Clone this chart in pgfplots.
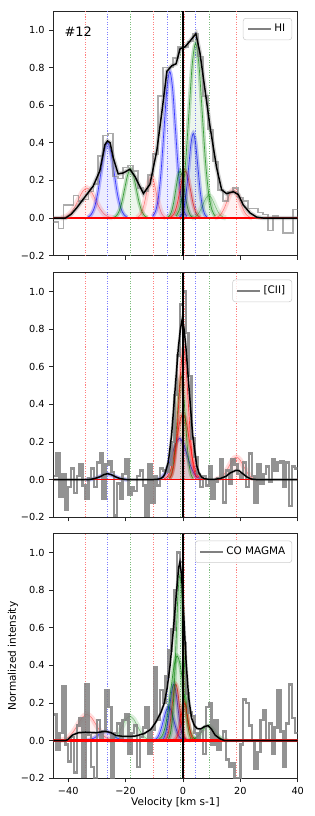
\documentclass[border=0pt]{standalone}
\usepackage{fontspec}
\setmainfont{DejaVu Sans}
\usepackage{pgfplots}
\pgfplotsset{compat=1.18}
\usepackage{pgfplotstable}
\definecolor{mgreen}{HTML}{008000}
\definecolor{vred}{HTML}{FF7F7F}
\definecolor{vblue}{HTML}{7F7FFF}
\definecolor{vgreen}{HTML}{7FBF7F}

% ---------------- data: observed spectra ----------------
\pgfplotstableread{
v y
-45.20 -0.02
-43.46 -0.055
-41.72 0.07
-39.98 0.07
-38.24 0.12
-36.50 0.09
-34.76 0.10
-33.02 0.14
-31.28 0.18
-29.54 0.33
-27.80 0.44
-26.06 0.45
-24.32 0.22
-22.58 0.21
-20.84 0.27
-19.10 0.28
-17.36 0.25
-15.62 0.16
-13.88 0.14
-12.14 0.23
-10.40 0.34
-8.66 0.65
-6.92 0.80
-5.18 0.80
-3.44 0.85
-1.70 0.91
0.04 0.91
1.78 0.94
3.52 0.98
5.26 0.86
7.00 0.65
8.74 0.47
10.48 0.30
12.22 0.15
13.96 0.09
15.70 0.14
17.44 0.16
19.18 0.11
20.92 0.09
22.66 0.05
24.40 0.05
26.14 0.03
27.88 0.02
29.62 -0.065
31.36 0.01
33.10 0.00
34.84 -0.08
36.58 -0.08
38.32 0.045
40.06 0.045
}\hihist

\pgfplotstableread{
v y
-45 0.02
-44 0.14
-43 -0.09
-42 0.03
-41 -0.16
-40 -0.04
-39 0.06
-38 -0.07
-37 0.02
-36 0.08
-35 -0.03
-34 -0.10
-33 0.01
-32 0.06
-31 -0.04
-30 0.09
-29 0.14
-28 -0.10
-27 0.08
-26 0.10
-25 0.04
-24 -0.19
-23 -0.02
-22 -0.10
-21 0.03
-20 0.11
-19 -0.08
-18 -0.04
-17 -0.06
-16 0.02
-15 0.05
-14 -0.03
-13 -0.19
-12 0.08
-11 -0.12
-10 0.02
-9 -0.03
-8 0.06
-7 0.05
-6 0.04
-5 0.08
-4 0.20
-3 0.45
-2 0.66
-1 0.93
0 1.00
1 0.78
2 0.55
3 0.22
4 0.12
5 0.03
6 -0.04
7 0.02
8 -0.03
9 0.07
10 -0.10
11 -0.01
12 0.01
13 0.11
14 -0.12
15 0.05
16 -0.02
17 0.11
18 0.08
19 0.03
20 0.01
21 0.09
22 -0.04
23 0.14
24 0.02
25 -0.12
26 0.08
27 -0.02
28 0.03
29 0.07
30 -0.01
31 0.11
32 0.05
33 0.09
34 0.10
35 -0.04
36 0.09
37 -0.14
38 0.07
39 0.06
40 0.06
}\ciihist

\pgfplotstableread{
v y
-45 0.14
-44 -0.05
-43 0.04
-42 0.29
-41 -0.02
-40 -0.11
-39 0.02
-38 -0.17
-37 0.08
-36 0.12
-35 -0.19
-34 0.30
-33 0.03
-32 -0.14
-31 -0.20
-30 0.11
-29 0.00
-28 0.05
-27 0.27
-26 0.18
-25 -0.20
-24 0.04
-23 0.09
-22 0.00
-21 0.11
-20 0.14
-19 -0.07
-18 0.04
-17 0.08
-16 -0.14
-15 0.02
-14 0.07
-13 0.18
-12 -0.07
-11 0.06
-10 0.39
-9 0.11
-8 0.27
-7 0.20
-6 0.34
-5 0.48
-4 0.59
-3 0.80
-2 1.00
-1 0.95
0 0.52
1 0.25
2 0.15
3 0.13
4 0.04
5 0.00
6 0.05
7 -0.07
8 0.18
9 0.20
10 -0.02
11 0.11
12 -0.05
13 0.00
14 0.05
15 -0.10
16 -0.14
17 -0.12
18 -0.21
19 -0.20
20 -0.02
21 0.22
22 0.20
23 0.08
24 0.00
25 -0.15
26 -0.06
27 0.11
28 0.16
29 0.00
30 0.09
31 -0.07
32 0.07
33 0.27
34 0.05
35 -0.14
36 0.09
37 0.30
38 0.12
39 0.04
40 0.04
}\cohist

% ---------------- helpers ----------------
\newcommand{\comp}[2]{%
  \addplot[draw=none, fill=#1, fill opacity=0.07, smooth, forget plot] coordinates {#2} \closedcycle;
  \addplot[#1, line width=3pt, opacity=0.25, smooth, forget plot] coordinates {#2};
  \addplot[#1, line width=0.5pt, opacity=0.7, smooth, forget plot] coordinates {#2};
}
\newcommand{\compl}[2]{%
  \addplot[draw=none, fill=#1, fill opacity=0.05, smooth, forget plot] coordinates {#2} \closedcycle;
  \addplot[#1, line width=4pt, opacity=0.13, smooth, forget plot] coordinates {#2};
  \addplot[#1, line width=0.4pt, opacity=0.45, smooth, forget plot] coordinates {#2};
}
\newcommand{\vl}[2]{%
  \addplot[color=#1, line width=0.8pt, dash pattern=on 0.8pt off 1.1pt, forget plot] coordinates {(#2,-0.2) (#2,1.1)};
}
\newcommand{\vlines}{%
  \vl{vred}{-34.1}\vl{vblue}{-26.3}\vl{vgreen}{-18.2}%
  \vl{vred}{-10.2}\vl{vblue}{-5.3}\vl{vgreen}{-1.0}%
  \vl{vred}{0.6}\vl{vblue}{4.5}\vl{vgreen}{9.2}\vl{vred}{18.8}%
}
\newcommand{\zeroline}[1]{%
  \addplot[red, line width=#1, forget plot] coordinates {(-45.2,0) (40,0)};
}
\newcommand{\vzero}{%
  \addplot[black, line width=0.9pt, forget plot] coordinates {(0,-0.2) (0,1.1)};
}

\pgfplotsset{
  panel/.style={
    scale only axis, width=183.3pt, height=183.4pt,
    xmin=-45.2, xmax=40, ymin=-0.2, ymax=1.1,
    xtick={-40,-20,0,20,40},
    ytick={-0.2,0,0.2,0.4,0.6,0.8,1.0},
    yticklabels={−0.2,0.0,0.2,0.4,0.6,0.8,1.0},
    tick align=outside, xtick pos=bottom, ytick pos=left,
    major tick length=3pt,
    tick style={black!85, line width=0.6pt},
    axis line style={black!85, line width=0.6pt},
    tick label style={font=\fontsize{7.3}{8}\selectfont, text=black},
    label style={font=\fontsize{7.9}{9}\selectfont},
    legend style={at={(0.977,0.972)}, anchor=north east, draw=black!20,
      rounded corners=2pt, fill=white, fill opacity=0.8, text opacity=1,
      font=\fontsize{7.8}{9}\selectfont, inner xsep=3pt, inner ysep=2.5pt},
    legend cell align=left,
  },
}

\begin{document}
\begin{tikzpicture}
% ================= Panel 1: HI =================
\begin{axis}[panel, at={(0pt,391.95pt)}, anchor=south west, xticklabels={}]
\addlegendimage{gray, line width=1.2pt}
\addlegendentry{HI}
\vlines
\compl{red}{(-42.5,0.002) (-41,0.007) (-39.5,0.022) (-38,0.052) (-36.5,0.097) (-35,0.141) (-33.5,0.160) (-32,0.141) (-30.5,0.097) (-29,0.052) (-27.5,0.022) (-26,0.007) (-24.5,0.002)}
\comp{blue}{(-33.2,0.004) (-32.05,0.018) (-30.9,0.054) (-29.75,0.130) (-28.6,0.243) (-27.45,0.353) (-26.3,0.400) (-25.15,0.353) (-24.0,0.243) (-22.85,0.130) (-21.7,0.054) (-20.55,0.018) (-19.4,0.004)}
\comp{mgreen}{(-24.3,0.003) (-23.3,0.011) (-22.3,0.035) (-21.3,0.085) (-20.3,0.158) (-19.3,0.229) (-18.3,0.260) (-17.3,0.229) (-16.3,0.158) (-15.3,0.085) (-14.3,0.035) (-13.3,0.011) (-12.3,0.003)}
\compl{red}{(-16.1,0.002) (-15.25,0.010) (-14.4,0.030) (-13.55,0.072) (-12.7,0.134) (-11.85,0.194) (-11.0,0.220) (-10.15,0.194) (-9.3,0.134) (-8.45,0.072) (-7.6,0.030) (-6.75,0.010) (-5.9,0.002)}
\comp{blue}{(-10.6,0.009) (-9.6,0.034) (-8.6,0.105) (-7.6,0.254) (-6.6,0.473) (-5.6,0.688) (-4.6,0.780) (-3.6,0.688) (-2.6,0.473) (-1.6,0.254) (-0.6,0.105) (0.4,0.034) (1.4,0.009)}
\comp{mgreen}{(-5.5,0.003) (-4.75,0.011) (-4.0,0.034) (-3.25,0.081) (-2.5,0.152) (-1.75,0.221) (-1.0,0.250) (-0.25,0.221) (0.5,0.152) (1.25,0.081) (2.0,0.034) (2.75,0.011) (3.5,0.003)}
\comp{red}{(-4.6,0.003) (-3.7,0.011) (-2.8,0.034) (-1.9,0.081) (-1.0,0.152) (-0.1,0.221) (0.8,0.250) (1.7,0.221) (2.6,0.152) (3.5,0.081) (4.4,0.034) (5.3,0.011) (6.2,0.003)}
\comp{blue}{(-1.2,0.005) (-0.4,0.020) (0.4,0.061) (1.2,0.146) (2.0,0.273) (2.8,0.397) (3.6,0.450) (4.4,0.397) (5.2,0.273) (6.0,0.146) (6.8,0.061) (7.6,0.020) (8.4,0.005)}
\comp{mgreen}{(-2.5,0.010) (-1.35,0.041) (-0.2,0.126) (0.95,0.302) (2.1,0.565) (3.25,0.820) (4.4,0.930) (5.55,0.820) (6.7,0.565) (7.85,0.302) (9.0,0.126) (10.15,0.041) (11.3,0.010)}
\compl{mgreen}{(3,0.001) (4,0.005) (5,0.016) (6,0.039) (7,0.073) (8,0.106) (9,0.120) (10,0.106) (11,0.073) (12,0.039) (13,0.016) (14,0.005) (15,0.001)}
\compl{red}{(11.0,0.002) (12.1,0.007) (13.2,0.020) (14.3,0.049) (15.4,0.091) (16.5,0.132) (17.6,0.150) (18.7,0.132) (19.8,0.091) (20.9,0.049) (22.0,0.020) (23.1,0.007) (24.2,0.002)}
\addplot[const plot, gray, line width=1.1pt, opacity=0.65, forget plot] table[x=v, y=y] {\hihist};
\zeroline{1.1pt}
\addplot[gray, line width=3.2pt, opacity=0.35, forget plot] coordinates {(-45.2,0) (-41,0) (-39,0.02) (-37,0.055) (-34.8,0.10) (-31.3,0.17) (-29,0.25) (-27.2,0.39) (-26.3,0.41) (-25.4,0.40) (-24.3,0.32) (-22.6,0.235) (-20.8,0.24) (-18.5,0.26) (-16.7,0.22) (-13.8,0.13) (-11.5,0.18) (-9.1,0.36) (-7.3,0.57) (-5.6,0.78) (-3.9,0.81) (-2.4,0.82) (-1.0,0.90) (0.7,0.91) (2.4,0.94) (4.5,0.98) (5.9,0.88) (7.7,0.68) (9.4,0.49) (11.7,0.27) (13.5,0.15) (15.2,0.13) (17.6,0.14) (19.3,0.125) (21,0.07) (23.4,0.027) (25.7,0.005) (28,0) (40,0)};
\addplot[black, line width=1.1pt, forget plot] coordinates {(-45.2,0) (-41,0) (-39,0.02) (-37,0.055) (-34.8,0.10) (-31.3,0.17) (-29,0.25) (-27.2,0.39) (-26.3,0.41) (-25.4,0.40) (-24.3,0.32) (-22.6,0.235) (-20.8,0.24) (-18.5,0.26) (-16.7,0.22) (-13.8,0.13) (-11.5,0.18) (-9.1,0.36) (-7.3,0.57) (-5.6,0.78) (-3.9,0.81) (-2.4,0.82) (-1.0,0.90) (0.7,0.91) (2.4,0.94) (4.5,0.98) (5.9,0.88) (7.7,0.68) (9.4,0.49) (11.7,0.27) (13.5,0.15) (15.2,0.13) (17.6,0.14) (19.3,0.125) (21,0.07) (23.4,0.027) (25.7,0.005) (28,0) (40,0)};
\vzero
\node[anchor=west, font=\fontsize{9.7}{11}\selectfont] at (rel axis cs:0.027,0.918) {\#12};
\end{axis}

% ================= Panel 2: [CII] =================
\begin{axis}[panel, at={(0pt,195.75pt)}, anchor=south west, xticklabels={}]
\addlegendimage{gray, line width=1.2pt}
\addlegendentry{[CII]}
\vlines
\comp{blue}{(-33.8,0.000) (-32.55,0.001) (-31.3,0.004) (-30.05,0.010) (-28.8,0.018) (-27.55,0.026) (-26.3,0.030) (-25.05,0.026) (-23.8,0.018) (-22.55,0.010) (-21.3,0.004) (-20.05,0.001) (-18.8,0.000)}
\comp{blue}{(-9.0,0.002) (-7.7,0.010) (-6.4,0.030) (-5.1,0.072) (-3.8,0.134) (-2.5,0.194) (-1.2,0.220) (0.1,0.194) (1.4,0.134) (2.7,0.072) (4.0,0.030) (5.3,0.010) (6.6,0.002)}
\comp{red}{(-6.6,0.004) (-5.5,0.015) (-4.4,0.047) (-3.3,0.114) (-2.2,0.212) (-1.1,0.309) (0,0.350) (1.1,0.309) (2.2,0.212) (3.3,0.114) (4.4,0.047) (5.5,0.015) (6.6,0.004)}
\comp{mgreen}{(-4.8,0.006) (-4.1,0.024) (-3.4,0.074) (-2.7,0.179) (-2.0,0.334) (-1.3,0.485) (-0.6,0.550) (0.1,0.485) (0.8,0.334) (1.5,0.179) (2.2,0.074) (2.9,0.024) (3.6,0.006)}
\comp{red}{(-4.6,0.008) (-3.8,0.031) (-3.0,0.095) (-2.2,0.228) (-1.4,0.425) (-0.6,0.617) (0.2,0.700) (1.0,0.617) (1.8,0.425) (2.6,0.228) (3.4,0.095) (4.2,0.031) (5.0,0.008)}
\compl{red}{(11.1,0.001) (12.35,0.005) (13.6,0.016) (14.85,0.039) (16.1,0.073) (17.35,0.106) (18.6,0.120) (19.85,0.106) (21.1,0.073) (22.35,0.039) (23.6,0.016) (24.85,0.005) (26.1,0.001)}
\addplot[const plot, gray, line width=1.9pt, opacity=0.85, forget plot] table[x=v, y=y] {\ciihist};
\zeroline{1.1pt}
\addplot[gray, line width=2.2pt, opacity=0.3, forget plot] coordinates {(-45.2,0) (-33,0) (-31,0.005) (-29,0.015) (-27.5,0.027) (-26.3,0.032) (-25,0.027) (-23.5,0.015) (-22,0.006) (-20,0.001) (-18,0) (-11,0) (-9,0.002) (-8,0.005) (-7,0.013) (-6.3,0.03) (-5.1,0.094) (-3.95,0.24) (-2.79,0.47) (-1.62,0.70) (-0.9,0.80) (-0.23,0.855) (0.4,0.80) (1.05,0.70) (2.2,0.47) (3.37,0.24) (4.77,0.076) (5.6,0.035) (6.5,0.014) (7.5,0.005) (9,0.002) (11,0.002) (13,0.006) (15,0.018) (16.5,0.036) (18.5,0.05) (19.5,0.048) (21,0.03) (22.5,0.012) (24,0.003) (26,0) (40,0)};
\addplot[black, line width=1.1pt, forget plot] coordinates {(-45.2,0) (-33,0) (-31,0.005) (-29,0.015) (-27.5,0.027) (-26.3,0.032) (-25,0.027) (-23.5,0.015) (-22,0.006) (-20,0.001) (-18,0) (-11,0) (-9,0.002) (-8,0.005) (-7,0.013) (-6.3,0.03) (-5.1,0.094) (-3.95,0.24) (-2.79,0.47) (-1.62,0.70) (-0.9,0.80) (-0.23,0.855) (0.4,0.80) (1.05,0.70) (2.2,0.47) (3.37,0.24) (4.77,0.076) (5.6,0.035) (6.5,0.014) (7.5,0.005) (9,0.002) (11,0.002) (13,0.006) (15,0.018) (16.5,0.036) (18.5,0.05) (19.5,0.048) (21,0.03) (22.5,0.012) (24,0.003) (26,0) (40,0)};
\vzero
\end{axis}

% ================= Panel 3: CO MAGMA =================
\begin{axis}[panel, at={(0pt,0pt)}, anchor=south west,
  xticklabels={−40,−20,0,20,40},
  xlabel={Velocity [km s-1]}, ylabel={Normalized intensity},
  xlabel style={at={(axis description cs:0.5,-0.098)}, anchor=center},
  ylabel style={at={(axis description cs:-0.165,0.5)}, anchor=center}]
\addlegendimage{gray, line width=1.2pt}
\addlegendentry{CO MAGMA}
\vlines
\compl{red}{(-43.1,0.002) (-41.5,0.006) (-39.9,0.019) (-38.3,0.046) (-36.7,0.085) (-35.1,0.123) (-33.5,0.140) (-31.9,0.123) (-30.3,0.085) (-28.7,0.046) (-27.1,0.019) (-25.5,0.006) (-23.9,0.002)}
\comp{blue}{(-34.5,0.001) (-33.25,0.002) (-32,0.007) (-30.75,0.016) (-29.5,0.030) (-28.25,0.044) (-27,0.050) (-25.75,0.044) (-24.5,0.030) (-23.25,0.016) (-22,0.007) (-20.75,0.002) (-19.5,0.001)}
\compl{mgreen}{(-26.3,0.001) (-25.0,0.006) (-23.7,0.018) (-22.4,0.042) (-21.1,0.079) (-19.8,0.115) (-18.5,0.130) (-17.2,0.115) (-15.9,0.079) (-14.6,0.042) (-13.3,0.018) (-12.0,0.006) (-10.7,0.001)}
\comp{blue}{(-10.4,0.002) (-9.5,0.008) (-8.6,0.024) (-7.7,0.059) (-6.8,0.109) (-5.9,0.159) (-5.0,0.180) (-4.1,0.159) (-3.2,0.109) (-2.3,0.059) (-1.4,0.024) (-0.5,0.008) (0.4,0.002)}
\comp{blue}{(-7.4,0.003) (-6.7,0.013) (-6.0,0.041) (-5.3,0.098) (-4.6,0.182) (-3.9,0.265) (-3.2,0.300) (-2.5,0.265) (-1.8,0.182) (-1.1,0.098) (-0.4,0.041) (0.3,0.013) (1.0,0.003)}
\comp{red}{(-6.4,0.003) (-5.75,0.013) (-5.1,0.041) (-4.45,0.098) (-3.8,0.182) (-3.15,0.265) (-2.5,0.300) (-1.85,0.265) (-1.2,0.182) (-0.55,0.098) (0.1,0.041) (0.75,0.013) (1.4,0.003)}
\comp{mgreen}{(-8.6,0.005) (-7.5,0.020) (-6.4,0.061) (-5.3,0.146) (-4.2,0.273) (-3.1,0.397) (-2.0,0.450) (-0.9,0.397) (0.2,0.273) (1.3,0.146) (2.4,0.061) (3.5,0.020) (4.6,0.005)}
\comp{mgreen}{(-5.0,0.010) (-4.35,0.039) (-3.7,0.119) (-3.05,0.286) (-2.4,0.534) (-1.75,0.776) (-1.1,0.880) (-0.45,0.776) (0.2,0.534) (0.85,0.286) (1.5,0.119) (2.15,0.039) (2.8,0.010)}
\comp{red}{(-3.1,0.002) (-2.5,0.009) (-1.9,0.027) (-1.3,0.065) (-0.7,0.121) (-0.1,0.176) (0.5,0.200) (1.1,0.176) (1.7,0.121) (2.3,0.065) (2.9,0.027) (3.5,0.009) (4.1,0.002)}
\comp{mgreen}{(1.9,0.001) (3.05,0.004) (4.2,0.011) (5.35,0.026) (6.5,0.049) (7.65,0.071) (8.8,0.080) (9.95,0.071) (11.1,0.049) (12.25,0.026) (13.4,0.011) (14.55,0.004) (15.7,0.001)}
\addplot[const plot, gray, line width=1.9pt, opacity=0.85, forget plot] table[x=v, y=y] {\cohist};
\zeroline{2pt}
\addplot[gray, line width=2.2pt, opacity=0.3, forget plot] coordinates {(-45.2,0) (-41,0) (-40.2,0.005) (-38.5,0.03) (-36.5,0.042) (-34,0.045) (-30.4,0.042) (-27,0.05) (-25,0.042) (-23.4,0.028) (-21,0.023) (-18,0.023) (-16.4,0.025) (-13.5,0.038) (-11.2,0.06) (-9.4,0.1) (-7.7,0.15) (-6.5,0.2) (-5.5,0.28) (-4.5,0.4) (-3.4,0.58) (-2.2,0.8) (-1.5,0.92) (-1.05,0.95) (-0.5,0.88) (0.12,0.71) (1.05,0.43) (1.98,0.23) (3.0,0.12) (4.0,0.08) (5,0.064) (6.2,0.062) (7.5,0.075) (8.8,0.08) (10,0.06) (11.2,0.03) (12.9,0.01) (14.5,0) (40,0)};
\addplot[black, line width=1.1pt, forget plot] coordinates {(-45.2,0) (-41,0) (-40.2,0.005) (-38.5,0.03) (-36.5,0.042) (-34,0.045) (-30.4,0.042) (-27,0.05) (-25,0.042) (-23.4,0.028) (-21,0.023) (-18,0.023) (-16.4,0.025) (-13.5,0.038) (-11.2,0.06) (-9.4,0.1) (-7.7,0.15) (-6.5,0.2) (-5.5,0.28) (-4.5,0.4) (-3.4,0.58) (-2.2,0.8) (-1.5,0.92) (-1.05,0.95) (-0.5,0.88) (0.12,0.71) (1.05,0.43) (1.98,0.23) (3.0,0.12) (4.0,0.08) (5,0.064) (6.2,0.062) (7.5,0.075) (8.8,0.08) (10,0.06) (11.2,0.03) (12.9,0.01) (14.5,0) (40,0)};
\vzero
\end{axis}
\pgfresetboundingbox
\path (-39.98pt,-28.28pt) rectangle (195.53pt,583.73pt);
\end{tikzpicture}
\end{document}
